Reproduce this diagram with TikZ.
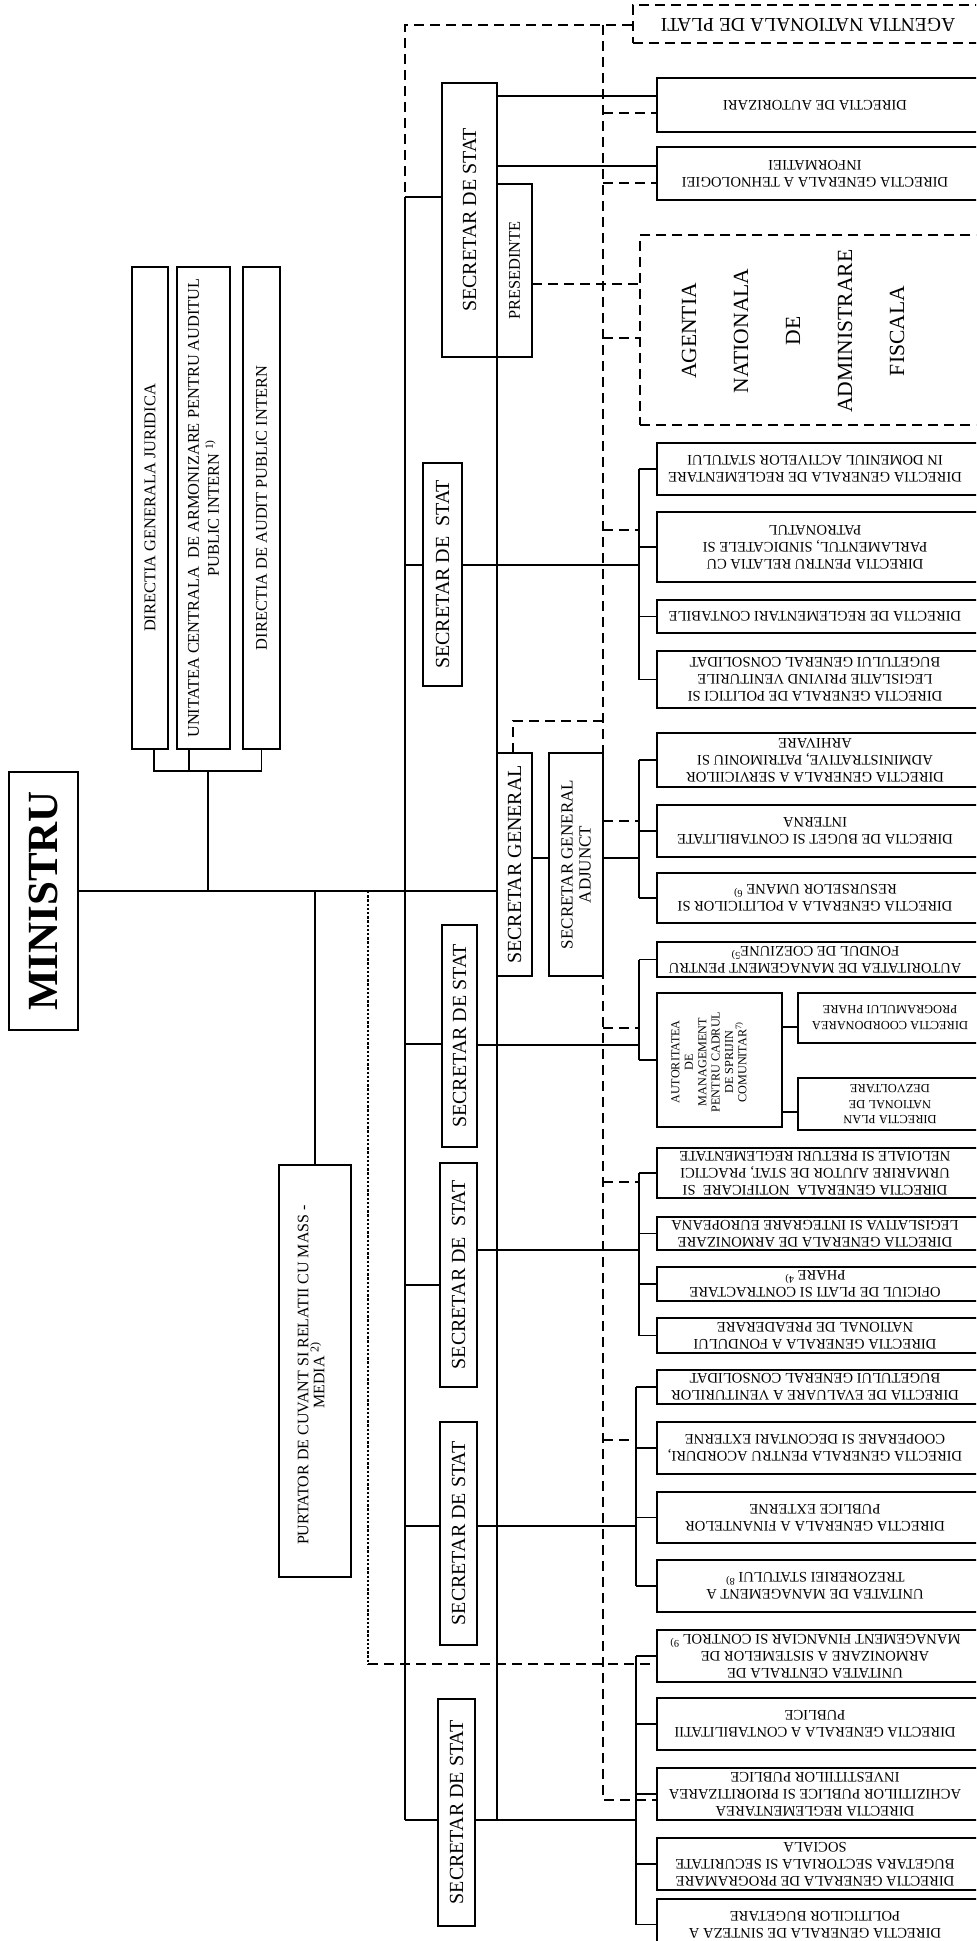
\documentclass[tikz,border=0pt]{standalone}
\usepackage{fontspec}
\setmainfont{Liberation Serif}
\tikzset{
  bx/.style={draw, line width=0.95pt, inner sep=0pt, outer sep=0pt},
  dbx/.style={draw, line width=0.95pt, dash pattern=on 5pt off 3pt, inner sep=0pt, outer sep=0pt},
  ln/.style={line width=0.8pt},
  dl/.style={line width=0.8pt, dash pattern=on 5pt off 3pt},
  dt/.style={line width=1.1pt, dash pattern=on 1.2pt off 0.9pt},
  rtxt/.style={rotate=180, align=center, font=\fontsize{7.3}{8.5}\selectfont, inner sep=0pt},
  vtxt/.style={rotate=90, align=center, inner sep=0pt, font=\fontsize{8.2}{10}\selectfont},
  stxt/.style={rotate=90, align=center, inner sep=0pt, font=\fontsize{10}{11}\selectfont},
}
\newcommand\mkbox[6][bx]{\node[#1, minimum width={(#5-#3)*0.5pt}, minimum height={(#6-#4)*0.5pt}] (#2) at ({(#3+#5)/2},{(#4+#6)/2}) {};}
\newcommand\RB[4]{\mkbox{#1}{657}{#2}{985}{#3}\node[rtxt] (#1t) at (815,{(#2+#3)/2}) {#4};}
\begin{document}
\begin{tikzpicture}[x=0.5pt,y=-0.5pt]
\useasboundingbox (0,0) rectangle (976,1941);
\fill[white] (0,0) rectangle (976,1941);
\clip (0,0) rectangle (976,1941);

% ---------- left side ----------
\mkbox{dgj}{132}{267}{168}{749}
\node[vtxt] (dgjt) at (dgj) {DIRECTIA GENERALA JURIDICA};
\mkbox{ucaa}{177}{267}{230}{749}
\node[vtxt] (ucaat) at (ucaa) {UNITATEA CENTRALA\ \ DE ARMONIZARE PENTRU AUDITUL\\PUBLIC INTERN \textsuperscript{1)}};
\mkbox{dapi}{243}{267}{280}{749}
\node[vtxt] (dapit) at (dapi) {DIRECTIA DE AUDIT PUBLIC INTERN};

\node[draw, line width=1.1pt, minimum width={69*0.5pt}, minimum height={258*0.5pt}, inner sep=0pt] (min) at (43.5,901) {};
\node[rotate=90, inner sep=0pt, font=\fontsize{21.5}{24}\selectfont\bfseries] (mint) at (min) {MINISTRU};

\mkbox{pur}{279}{1165}{351}{1577}
\node[rotate=90, align=center, inner sep=0pt, font=\fontsize{8}{8}\selectfont] (purt) at (311,1375) {PURTATOR DE CUVANT SI RELATII CU MASS -\\MEDIA \textsuperscript{2)}};

\coordinate (lj) at (208,771);
\coordinate (mj) at (208,891);
\draw[ln] ([xshift=2pt]dgj.south) -- ([xshift=2pt]dgj.south |- lj) -- (dapi.south |- lj) -- (dapi.south);
\draw[ln] ([xshift=-7.25pt]ucaa.south) -- ([xshift=-7.25pt]ucaa.south |- lj);
\draw[ln] (lj) -- (mj);

% ---------- secretaries ----------
\mkbox{sds1}{442}{83}{497}{357}
\node[stxt] (sds1t) at (sds1) {SECRETAR DE STAT};
\mkbox{pres}{497}{184}{532}{357}
\node[stxt, font=\fontsize{8.2}{9}\selectfont] (prest) at (pres) {PRESEDINTE};
\mkbox{sds2}{423}{463}{462}{686}
\node[stxt] (sds2t) at (sds2) {SECRETAR DE\ \ STAT};
\mkbox{sg}{497}{753}{532}{976}
\node[stxt] (sgt) at (sg) {SECRETAR GENERAL};
\mkbox{sga}{549}{753}{603}{976}
\node[stxt, font=\fontsize{8.5}{9}\selectfont] (sgat) at (sga) {SECRETAR GENERAL\\ADJUNCT};
\mkbox{sds3}{442}{925}{477}{1147}
\node[stxt] (sds3t) at (sds3) {SECRETAR DE STAT};
\mkbox{sds4}{440}{1163}{477}{1387}
\node[stxt] (sds4t) at (sds4) {SECRETAR DE\ \ STAT};
\mkbox{sds5}{440}{1422}{477}{1645}
\node[stxt] (sds5t) at (sds5) {SECRETAR DE STAT};
\mkbox{sds6}{438}{1699}{475}{1926}
\node[stxt] (sds6t) at (sds6) {SECRETAR DE STAT};

% main line and buses
\draw[ln] (min.east |- mj) -- (sg.west |- mj);
\draw[ln] (pur.north |- mj) -- (pur.north);
\coordinate (busT) at (405,197);
\coordinate (busB) at (405,1820);
\draw[ln] (busT) -- (busB);
\draw[ln] (497,268) -- (497,1820);
\draw[ln] (busT) -- (sds1.west |- busT);
\draw[ln] (405,565) -- (sds2.west |- 0,565);
\draw[ln] (405,1044) -- (sds3.west |- 0,1044);
\draw[ln] (405,1285) -- (sds4.west |- 0,1285);
\draw[ln] (405,1526) -- (sds5.west |- 0,1526);
\draw[ln] (busB) -- (sds6.west |- busB);
\draw[ln] (sg.east |- 0,858) -- (sga.west |- 0,858);

% ---------- right boxes ----------
\mkbox[dbx]{anp}{633}{5}{990}{43}
\node[rotate=180, inner sep=0pt, font=\fontsize{9.8}{12}\selectfont] (anpt) at (808,25) {AGENTIA NATIONALA DE PLATI};
\RB{da}{78}{132}{DIRECTIA DE AUTORIZARI}
\RB{dgti}{147}{200}{DIRECTIA GENERALA A TEHNOLOGIEI\\INFORMATIEI}
\mkbox[dbx]{anaf}{640}{235}{990}{425}
\node[rotate=90, align=center, inner sep=0pt, font=\fontsize{10.8}{26}\selectfont] (anaft) at (793,331) {AGENTIA\\NATIONALA\\DE\\ADMINISTRARE\\FISCALA};
\RB{dgr}{443}{495}{DIRECTIA GENERALA DE REGLEMENTARE\\IN DOMENIUL ACTIVELOR STATULUI}
\RB{dprc}{512}{582}{DIRECTIA PENTRU RELATIA CU\\PARLAMENTUL, SINDICATELE SI\\PATRONATUL}
\RB{drc}{600}{633}{DIRECTIA DE REGLEMENTARI CONTABILE}
\RB{dgpl}{651}{708}{DIRECTIA GENERALA DE POLITICI SI\\LEGISLATIE PRIVIND VENITURILE\\BUGETULUI GENERAL CONSOLIDAT}
\RB{dgsa}{733}{787}{DIRECTIA GENERALA A SERVICIILOR\\ADMINISTRATIVE, PATRIMONIU SI\\ARHIVARE}
\RB{dbci}{805}{857}{DIRECTIA DE BUGET SI CONTABILITATE\\INTERNA}
\RB{dgpru}{873}{923}{DIRECTIA GENERALA A POLITICILOR SI\\RESURSELOR UMANE \textsuperscript{6)}}
\RB{amfc}{942}{977}{AUTORITATEA DE MANAGEMENT PENTRU\\FONDUL DE COEZIUNE\textsuperscript{5)}}
\mkbox{amcsc}{657}{993}{782}{1127}
\node[rotate=90, align=center, inner sep=0pt, font=\fontsize{6.1}{6.7}\selectfont] (amcsct) at (709,1062) {AUTORITATEA\\DE\\MANAGEMENT\\PENTRU CADRUL\\DE SPRIJIN\\COMUNITAR\textsuperscript{7)}};
\mkbox{dcpp}{798}{993}{990}{1043}
\node[rtxt, font=\fontsize{6.2}{8}\selectfont] (dcppt) at (890,1018) {DIRECTIA COORDONAREA\\PROGRAMULUI PHARE};
\mkbox{dpnd}{798}{1078}{990}{1130}
\node[rtxt, font=\fontsize{6.2}{7.6}\selectfont] (dpndt) at (890,1104) {DIRECTIA PLAN\\NATIONAL DE\\DEZVOLTARE};
\RB{dgn}{1148}{1198}{DIRECTIA GENERALA\ \ NOTIFICARE\ \ SI\\URMARIRE AJUTOR DE STAT, PRACTICI\\NELOIALE SI PRETURI REGLEMENTATE}
\RB{dga}{1217}{1250}{DIRECTIA GENERALA DE ARMONIZARE\\LEGISLATIVA SI INTEGRARE EUROPEANA}
\RB{opcp}{1267}{1301}{OFICIUL DE PLATI SI CONTRACTARE\\PHARE \textsuperscript{4)}}
\RB{dgfnp}{1318}{1353}{DIRECTIA GENERALA A FONDULUI\\NATIONAL DE PREADERARE}
\RB{devb}{1370}{1404}{DIRECTIA DE EVALUARE A VENITURILOR\\BUGETULUI GENERAL CONSOLIDAT}
\RB{dgacd}{1422}{1474}{DIRECTIA GENERALA PENTRU ACORDURI,\\COOPERARE SI DECONTARI EXTERNE}
\RB{dgfpe}{1492}{1543}{DIRECTIA GENERALA A FINANTELOR\\PUBLICE EXTERNE}
\RB{umts}{1560}{1612}{UNITATEA DE MANAGEMENT A\\TREZORERIEI STATULUI \textsuperscript{8)}}
\RB{ucas}{1630}{1682}{UNITATEA CENTRALA DE\\ARMONIZARE A SISTEMELOR DE\\MANAGEMENT FINANCIAR SI CONTROL \textsuperscript{9)}}
\RB{dgcp}{1698}{1750}{DIRECTIA GENERALA A CONTABILITATII\\PUBLICE}
\RB{drapip}{1768}{1820}{DIRECTIA REGLEMENTAREA\\ACHIZITIILOR PUBLICE SI PRIORITIZAREA\\INVESTITIILOR PUBLICE}
\RB{dgpbss}{1838}{1890}{DIRECTIA GENERALA DE PROGRAMARE\\BUGETARA SECTORIALA SI SECURITATE\\SOCIALA}
\RB{dgspb}{1899}{1950}{DIRECTIA GENERALA DE SINTEZA A\\POLITICILOR BUGETARE}

% ---------- solid connectors to right ----------
\draw[ln] (sds1.east |- 0,96) -- (da.west |- 0,96);
\draw[ln] (sds1.east |- 0,166) -- (dgti.west |- 0,166);
% bracket A (sds2)
\foreach \n in {dgr,dprc,drc,dgpl} \draw[ln] (\n.west) -- (\n.west -| 639,0);
\draw[ln] (dgr.west -| 639,0) -- (dgpl.west -| 639,0);
\draw[ln] (sds2.east |- 0,565) -- (639,565);
% bracket B (sga)
\foreach \n in {dgsa,dbci,dgpru} \draw[ln] (\n.west) -- (\n.west -| 639,0);
\draw[ln] (dgsa.west -| 639,0) -- (dgpru.west -| 639,0);
\draw[ln] (sga.east |- 0,858) -- (639,858);
% bracket C (sds3)
\foreach \n in {amfc,amcsc} \draw[ln] (\n.west) -- (\n.west -| 639,0);
\draw[ln] (amfc.west -| 639,0) -- (amcsc.west -| 639,0);
\draw[ln] (sds3.east |- 0,1045) -- (639,1045);
\draw[ln] (amcsc.east |- 0,1027) -- (dcpp.west |- 0,1027);
\draw[ln] (amcsc.east |- 0,1112) -- (dpnd.west |- 0,1112);
% bracket D (sds4)
\foreach \n in {dgn,dga,opcp,dgfnp} \draw[ln] (\n.west) -- (\n.west -| 639,0);
\draw[ln] (dgn.west -| 639,0) -- (dgfnp.west -| 639,0);
\draw[ln] (sds4.east |- 0,1250) -- (639,1250);
% bracket E (sds5)
\foreach \n in {devb,dgacd,dgfpe,umts} \draw[ln] (\n.west) -- (\n.west -| 636,0);
\draw[ln] (devb.west -| 636,0) -- (umts.west -| 636,0);
\draw[ln] (sds5.east |- 0,1526) -- (636,1526);
% bracket F (sds6)
\foreach \n in {ucas,dgcp,drapip,dgpbss,dgspb} \draw[ln] (\n.west) -- (\n.west -| 636,0);
\draw[ln] (ucas.west -| 636,0) -- (dgspb.west -| 636,0);
\draw[ln] (sds6.east |- busB) -- (636,1820);

% ---------- dashed connectors ----------
\draw[dl] (405,192) -- (405,25) -- (anp.west |- 0,25);
\draw[dl] (603,25) -- (603,1800) -- (drapip.west |- 0,1800);
\draw[dl] (603,113) -- (da.west |- 0,113);
\draw[dl] (603,183) -- (dgti.west |- 0,183);
\draw[dl] (pres.east |- 0,284) -- (anaf.west |- 0,284);
\draw[dl] (603,338) -- (anaf.west |- 0,338);
\draw[dl] (603,530) -- (639,530);
\draw[dl] ([xshift=-0.75pt]sg.north) -- ++(0,-32) -- (603,721);
\draw[dl] (603,821) -- (639,821);
\draw[dl] (603,1028) -- (639,1028);
\draw[dl] (603,1182) -- (639,1182);
\draw[dl] (603,1440) -- (636,1440);
\draw[dt] (368,891) -- (368,1664);
\draw[dl] (368,1664) -- (ucas.west |- 0,1664);
\end{tikzpicture}
\end{document}
